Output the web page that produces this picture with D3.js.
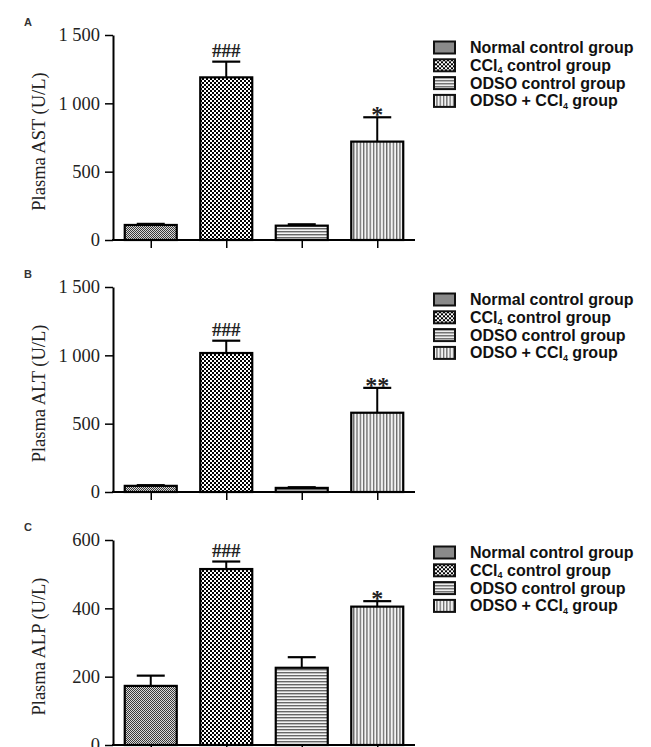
<!DOCTYPE html>
<html>
<head>
<meta charset="utf-8">
<style type="text/css">
	body{ margin:0; background:#fff; }
	svg{ display:block; }
	.tick text{ font-family:"Liberation Serif", "Times New Roman", serif; }
	.legend text{ font-family:"Liberation Sans", Arial, sans-serif; font-weight:bold; }
</style>
<script src="https://cdn.jsdelivr.net/npm/d3@7"></script>
</head>
<body>
<svg id="svg" width="651" height="747"></svg>
<script type="text/javascript">

	// groups, in drawing order
	var groups = ["Normal control group", "CCl4 control group", "ODSO control group", "ODSO + CCl4 group"];
	var patternIds = ["pNormal", "pCcl4", "pOdso", "pOdsoCcl4"];

	// panel A: plasma AST
	var astMean = [110, 1190, 105, 720];
	var astErr = [8, 115, 10, 178];
	var astMarks = ["", "###", "", "*"];

	// panel B: plasma ALT
	var altMean = [45, 1017, 30, 580];
	var altErr = [5, 90, 5, 182];
	var altMarks = ["", "###", "", "**"];

	// panel C: plasma ALP
	var alpMean = [173, 515, 226, 405];
	var alpErr = [30, 22, 31, 16];
	var alpMarks = ["", "###", "", "*"];

	var ticks1500 = [0, 500, 1000, 1500];
	var ticks600 = [0, 200, 400, 600];

	var panels = [
		{letter:"A", label:"Plasma AST (U/L)", mean:astMean, err:astErr, marks:astMarks, max:1500, ticks:ticks1500, top:35},
		{letter:"B", label:"Plasma ALT (U/L)", mean:altMean, err:altErr, marks:altMarks, max:1500, ticks:ticks1500, top:287},
		{letter:"C", label:"Plasma ALP (U/L)", mean:alpMean, err:alpErr, marks:alpMarks, max:600, ticks:ticks600, top:540}
	];

	var svg = d3.select("#svg");
	var defs = svg.append("defs");

	// fill patterns
	var p;
	p = defs.append("pattern").attr("id", "pNormal").attr("patternUnits", "userSpaceOnUse").attr("width", 2).attr("height", 2);
	p.append("rect").attr("width", 2).attr("height", 2).style("fill", "#dadada");
	p.append("rect").attr("width", 1).attr("height", 1).style("fill", "#3a3a3a");
	p.append("rect").attr("x", 1).attr("y", 1).attr("width", 1).attr("height", 1).style("fill", "#3a3a3a");

	p = defs.append("pattern").attr("id", "pCcl4").attr("patternUnits", "userSpaceOnUse").attr("width", 4).attr("height", 4);
	p.append("rect").attr("width", 4).attr("height", 4).style("fill", "#fff");
	p.append("rect").attr("width", 2).attr("height", 2).style("fill", "#000");
	p.append("rect").attr("x", 2).attr("y", 2).attr("width", 2).attr("height", 2).style("fill", "#000");

	p = defs.append("pattern").attr("id", "pOdso").attr("patternUnits", "userSpaceOnUse").attr("width", 4).attr("height", 3);
	p.append("rect").attr("width", 4).attr("height", 3).style("fill", "#f4f4f4");
	p.append("rect").attr("width", 4).attr("height", 1.4).style("fill", "#666");

	p = defs.append("pattern").attr("id", "pOdsoCcl4").attr("patternUnits", "userSpaceOnUse").attr("width", 3.3).attr("height", 4);
	p.append("rect").attr("width", 3.3).attr("height", 4).style("fill", "#f4f4f4");
	p.append("rect").attr("width", 1.3).attr("height", 4).style("fill", "#6a6a6a");

	var x = d3.scalePoint().domain(groups).range([113, 415]).padding(0.5);
	var barW = 52;
	var plotH = 205;
	var fmt = function(d){ return d >= 1000 ? d3.format(",")(d).replace(",", " ") : d; };

	panels.forEach(function(pn){
		var g = svg.append("g");
		var y = d3.scaleLinear().domain([0, pn.max]).range([pn.top + plotH, pn.top]);
		var data = groups.map(function(gr, i){ return {group:gr, mean:pn.mean[i], err:pn.err[i], mark:pn.marks[i], pat:patternIds[i]}; });

		// panel letter
		g.append("text").attr("x", 24).attr("y", pn.top - 9)
			.style("font-family", "Liberation Sans, Arial, sans-serif").style("font-weight", "bold")
			.style("font-size", "11px").style("fill", "#333").text(pn.letter);

		// y axis
		var yAxis = g.append("g").attr("transform", "translate(113,0)")
			.call(d3.axisLeft(y).tickValues(pn.ticks).tickFormat(fmt).tickSize(8).tickSizeOuter(0));
		yAxis.select(".domain").style("stroke", "#000").style("stroke-width", 2);
		yAxis.selectAll(".tick line").style("stroke-width", 1.5);
		yAxis.selectAll(".tick text").style("font-size", "18.5px").style("fill", "#222").attr("x", -13);

		// x axis
		var xAxis = g.append("g").attr("transform", "translate(0," + (pn.top + plotH) + ")")
			.call(d3.axisBottom(x).tickSize(8).tickSizeOuter(0).tickFormat(""));
		xAxis.select(".domain").attr("d", "M112,0H415").style("stroke", "#000").style("stroke-width", 2);
		xAxis.selectAll(".tick line").style("stroke-width", 1.5);

		g.append("text").attr("transform", "translate(45," + (pn.top + plotH / 2 + 4) + ") rotate(-90)")
			.attr("text-anchor", "middle")
			.style("font-family", "Liberation Serif, Times New Roman, serif").style("font-size", "18.5px").style("fill", "#222")
			.text(pn.label);

		// error bars
		var eb = g.selectAll(".eb").data(data).enter().append("g");
		eb.append("line")
			.attr("x1", function(d){ return x(d.group); }).attr("x2", function(d){ return x(d.group); })
			.attr("y1", function(d){ return y(d.mean); }).attr("y2", function(d){ return y(d.mean + d.err); })
			.style("stroke", "#000").style("stroke-width", 2);
		eb.append("line")
			.attr("x1", function(d){ return x(d.group) - 14; }).attr("x2", function(d){ return x(d.group) + 14; })
			.attr("y1", function(d){ return y(d.mean + d.err); }).attr("y2", function(d){ return y(d.mean + d.err); })
			.style("stroke", "#000").style("stroke-width", 2.2);

		// bars
		g.selectAll(".bar").data(data).enter().append("rect")
			.attr("x", function(d){ return x(d.group) - barW / 2; })
			.attr("y", function(d){ return y(d.mean); })
			.attr("width", barW)
			.attr("height", function(d){ return y(0) - y(d.mean); })
			.style("fill", function(d){ return "url(#" + d.pat + ")"; })
			.style("stroke", "#000").style("stroke-width", 2.2);

		// significance marks
		g.selectAll(".mark").data(data.filter(function(d){ return d.mark; })).enter().append("text")
			.attr("x", function(d){ return x(d.group); })
			.attr("y", function(d){ return y(d.mean + d.err) - (d.mark.charAt(0) == "*" ? -5 : 5); })
			.attr("text-anchor", "middle")
			.style("font-family", "Liberation Serif, Times New Roman, serif")
			.style("font-size", function(d){ return d.mark.charAt(0) == "*" ? "24px" : "19px"; })
			.style("font-weight", "bold").style("fill", "#222")
			.text(function(d){ return d.mark; });

		// legend
		var lg = g.append("g").attr("class", "legend");
		var rows = lg.selectAll(".row").data(data).enter().append("g")
			.attr("transform", function(d, i){ return "translate(433," + (pn.top + 12.5 + i * 17.8) + ")"; });
		rows.append("rect").attr("x", 1).attr("y", -6).attr("width", 21).attr("height", 12)
			.style("fill", function(d){ return "url(#" + d.pat + ")"; })
			.style("stroke", "#111").style("stroke-width", 2);
		rows.each(function(d){
			var t = d3.select(this).append("text").attr("x", 37).attr("y", 5.5).style("font-size", "16px").style("fill", "#111");
			var parts = d.group.split("CCl4");
			t.append("tspan").text(parts[0] + (parts.length > 1 ? "CCl" : ""));
			if(parts.length > 1){
				t.append("tspan").attr("dy", 2.5).style("font-size", "9px").text("4");
				t.append("tspan").attr("dy", -2.5).text(parts[1]);
			}
		});
	});

</script>
</body>
</html>
